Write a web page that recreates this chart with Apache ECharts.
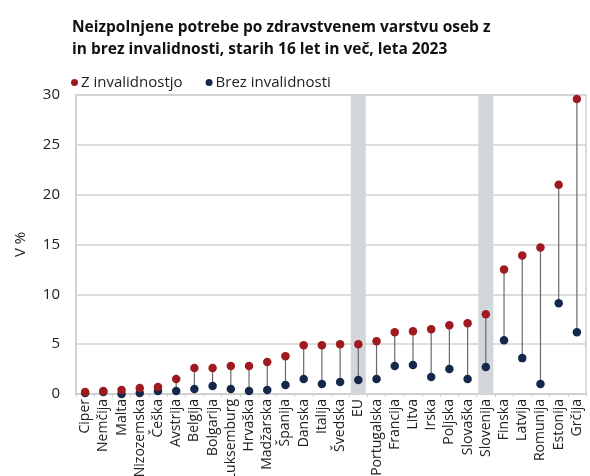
<!DOCTYPE html>
<html><head><meta charset="utf-8">
<script src="https://cdn.jsdelivr.net/npm/echarts@6/dist/echarts.min.js"></script>
<style>html,body{margin:0;padding:0;background:#fff}#c{width:590px;height:476px}</style>
</head><body><div id="c"></div>
<script>
const categories = ['Ciper','Nemčija','Malta','Nizozemska','Češka','Avstrija','Belgija','Bolgarija','Luksemburg','Hrvaška','Madžarska','Španija','Danska','Italija','Švedska','EU','Portugalska','Francija','Litva','Irska','Poljska','Slovaška','Slovenija','Finska','Latvija','Romunija','Estonija','Grčija'];
const withDisability = [0.2,0.3,0.4,0.6,0.7,1.5,2.6,2.6,2.8,2.8,3.2,3.8,4.9,4.9,5.0,5.0,5.3,6.2,6.3,6.5,6.9,7.1,8.0,12.5,13.9,14.7,21.0,29.6];
const withoutDisability = [0.1,0.2,0.0,0.1,0.3,0.3,0.5,0.8,0.5,0.3,0.4,0.9,1.5,1.0,1.2,1.4,1.5,2.8,2.9,1.7,2.5,1.5,2.7,5.4,3.6,1.0,9.1,6.2];
const highlighted = ['EU','Slovenija'];
const yTicks = [0,5,10,15,20,25,30];

const FONT = 'Open Sans';
const RED = '#9e1a20', BLUE = '#15284b';
const shade = categories.map(c => highlighted.includes(c) ? yTicks[yTicks.length-1] : '-');
const ranges = categories.map((c,i)=>[i, withDisability[i], withoutDisability[i]]);

const chart = echarts.init(document.getElementById('c'));
chart.setOption({
  animation:false,
  textStyle:{fontFamily:FONT},
  title:{
    text:'Neizpolnjene potrebe po zdravstvenem varstvu oseb z\nin brez invalidnosti, starih 16 let in več, leta 2023',
    left:67, top:12,
    textStyle:{fontFamily:FONT,fontWeight:'bold',fontSize:15.5,lineHeight:22,color:'#111'}
  },
  legend:{
    left:66, top:70, itemWidth:7, itemHeight:7, itemGap:23,
    icon:'circle',
    textStyle:{fontFamily:FONT,fontSize:15,color:'#222',padding:[0,0,0,-2]},
    data:['Z invalidnostjo','Brez invalidnosti']
  },
  grid:{left:76,right:4,top:95,bottom:82,containLabel:false,outerBoundsMode:'none',show:true,borderColor:'#d0d0d0',borderWidth:1.5},
  xAxis:{
    type:'category', data:categories, boundaryGap:true,
    axisLine:{lineStyle:{color:'#d0d0d0',width:1.5}},
    axisTick:{show:true,length:3,lineStyle:{color:'#d0d0d0'}},
    axisLabel:{rotate:90,fontFamily:FONT,fontSize:14,color:'#222',margin:5,interval:0}
  },
  yAxis:{
    type:'value', min:0, max:30, interval:5,
    name:'V %', nameLocation:'middle', nameGap:48, nameRotate:90,
    nameTextStyle:{fontFamily:FONT,fontSize:15,color:'#222'},
    axisLine:{show:true,lineStyle:{color:'#d0d0d0',width:1.5}},
    axisTick:{show:false},
    axisLabel:{fontFamily:FONT,fontSize:15,color:'#222',margin:16},
    splitLine:{lineStyle:{color:'#d0d0d0',width:1.5}}
  },
  series:[
    {type:'bar', data:shade, barWidth:15, barGap:'-100%', itemStyle:{color:'#d2d6da'}, silent:true, z:1},
    {type:'custom', data:ranges, z:2, silent:true,
      renderItem:function(params, api){
        const p1 = api.coord([api.value(0), api.value(1)]);
        const p2 = api.coord([api.value(0), api.value(2)]);
        return {type:'line', shape:{x1:p1[0],y1:p1[1],x2:p2[0],y2:p2[1]}, style:{stroke:'#6a6a6a',lineWidth:1.2}};
      },
      encode:{x:0,y:[1,2]}
    },
    {name:'Z invalidnostjo', type:'scatter', data:withDisability, symbolSize:8.5, itemStyle:{color:RED,opacity:1}, z:4},
    {name:'Brez invalidnosti', type:'scatter', data:withoutDisability, symbolSize:8.5, itemStyle:{color:BLUE,opacity:1}, z:3}
  ]
});
</script></body></html>
